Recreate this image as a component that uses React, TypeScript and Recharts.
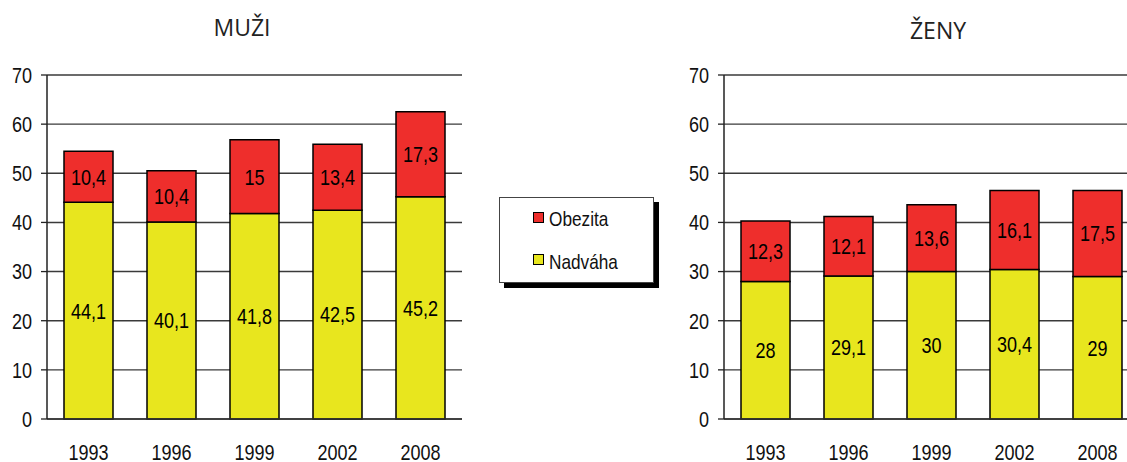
import { BarChart, Bar, XAxis, YAxis, CartesianGrid, LabelList } from 'recharts'

const years = ['1993', '1996', '1999', '2002', '2008']
const muziNadvaha = [44.1, 40.1, 41.8, 42.5, 45.2]
const muziObezita = [10.4, 10.4, 15, 13.4, 17.3]
const zenyNadvaha = [28, 29.1, 30, 30.4, 29]
const zenyObezita = [12.3, 12.1, 13.6, 16.1, 17.5]
const yTicks = [0, 10, 20, 30, 40, 50, 60, 70]

const RED = '#ee2e2c'
const YELLOW = '#e8e61e'
const FONT = '"Liberation Sans", Arial, sans-serif'
const SQUEEZE = 0.82 // imitate Arial Narrow

const fmt = (v: any) => String(v).replace('.', ',')

// squeezed text, since no narrow face is installed
const NarrowTick = ({ x, y, payload, textAnchor, verticalAnchor }: any) => (
  <text
    transform={`translate(${x},${y}) scale(${SQUEEZE},1)`}
    textAnchor={textAnchor}
    dy={verticalAnchor === 'start' ? '0.71em' : '0.36em'}
    fontSize={22}
    fontFamily={FONT}
    fill="#111"
  >
    {payload.value}
  </text>
)

const NarrowLabel = ({ x, y, width, height, value }: any) => (
  <text
    transform={`translate(${Number(x) + Number(width) / 2},${Number(y) + Number(height) / 2}) scale(${SQUEEZE},1)`}
    textAnchor="middle"
    dy="0.36em"
    fontSize={22}
    fontFamily={FONT}
    fill="#000"
  >
    {fmt(value)}
  </text>
)

function Panel({ nadvaha, obezita }: { nadvaha: number[]; obezita: number[] }) {
  const data = years.map((year, i) => ({ year, nadvaha: nadvaha[i], obezita: obezita[i] }))
  return (
    <BarChart width={470} height={462} data={data} margin={{ top: 75, right: 8, left: 0, bottom: 3 }} barSize={49}>
      <CartesianGrid vertical={false} stroke="#3a3a3a" strokeWidth={1.4} yAxisId="l" />
      <XAxis
        dataKey="year"
        tickLine={false}
        axisLine={{ stroke: '#333', strokeWidth: 1.5 }}
        tick={<NarrowTick />}
        tickMargin={19}
        height={40}
        interval={0}
      />
      <YAxis
        yAxisId="l"
        domain={[0, 70]}
        ticks={yTicks}
        interval={0}
        width={47}
        tickSize={6}
        tickMargin={9}
        tick={<NarrowTick />}
        tickLine={{ stroke: '#222', strokeWidth: 1.3 }}
        axisLine={{ stroke: '#222', strokeWidth: 1.5 }}
      />
      <YAxis yAxisId="r" orientation="right" width={0} tick={false} tickLine={false} axisLine={{ stroke: '#999', strokeWidth: 1.5 }} />
      <Bar dataKey="nadvaha" stackId="a" yAxisId="l" fill={YELLOW} stroke="#000" strokeWidth={1.5} isAnimationActive={false}>
        <LabelList dataKey="nadvaha" position="center" content={<NarrowLabel />} />
      </Bar>
      <Bar dataKey="obezita" stackId="a" yAxisId="l" fill={RED} stroke="#000" strokeWidth={1.5} isAnimationActive={false}>
        <LabelList dataKey="obezita" position="center" content={<NarrowLabel />} />
      </Bar>
    </BarChart>
  )
}

const titleStyle = {
  position: 'absolute' as const,
  width: 200,
  textAlign: 'center' as const,
  fontFamily: '"Open Sans", sans-serif',
  fontSize: 23,
  color: '#222',
  lineHeight: 'normal',
}

const swatch = (color: string) => ({
  position: 'absolute' as const,
  left: 33,
  width: 9,
  height: 9,
  background: color,
  border: '1px solid #000',
})

const legendText = {
  position: 'absolute' as const,
  left: 49,
  fontFamily: FONT,
  fontSize: 21,
  color: '#111',
  lineHeight: '24px',
  transform: `scaleX(${SQUEEZE})`,
  transformOrigin: 'left center',
}

export default function App() {
  return (
    <div style={{ position: 'absolute', left: 0, top: 0, width: 1127, height: 462, overflow: 'hidden', background: '#fff' }}>
      <div style={{ ...titleStyle, left: 142, top: 11 }}>MUŽI</div>
      <div style={{ ...titleStyle, left: 838, top: 14 }}>ŽENY</div>

      <div style={{ position: 'absolute', left: 0, top: 0 }}>
        <Panel nadvaha={muziNadvaha} obezita={muziObezita} />
      </div>
      <div style={{ position: 'absolute', left: 677, top: 0 }}>
        <Panel nadvaha={zenyNadvaha} obezita={zenyObezita} />
      </div>

      <div
        style={{
          position: 'absolute',
          left: 499,
          top: 197,
          width: 153,
          height: 84,
          border: '1px solid #444',
          boxShadow: '5px 5px 0 #000',
          background: '#fff',
        }}
      >
        <div style={{ ...swatch(RED), top: 14 }} />
        <div style={{ ...legendText, top: 9 }}>Obezita</div>
        <div style={{ ...swatch(YELLOW), top: 56 }} />
        <div style={{ ...legendText, top: 52 }}>Nadváha</div>
      </div>
    </div>
  )
}
